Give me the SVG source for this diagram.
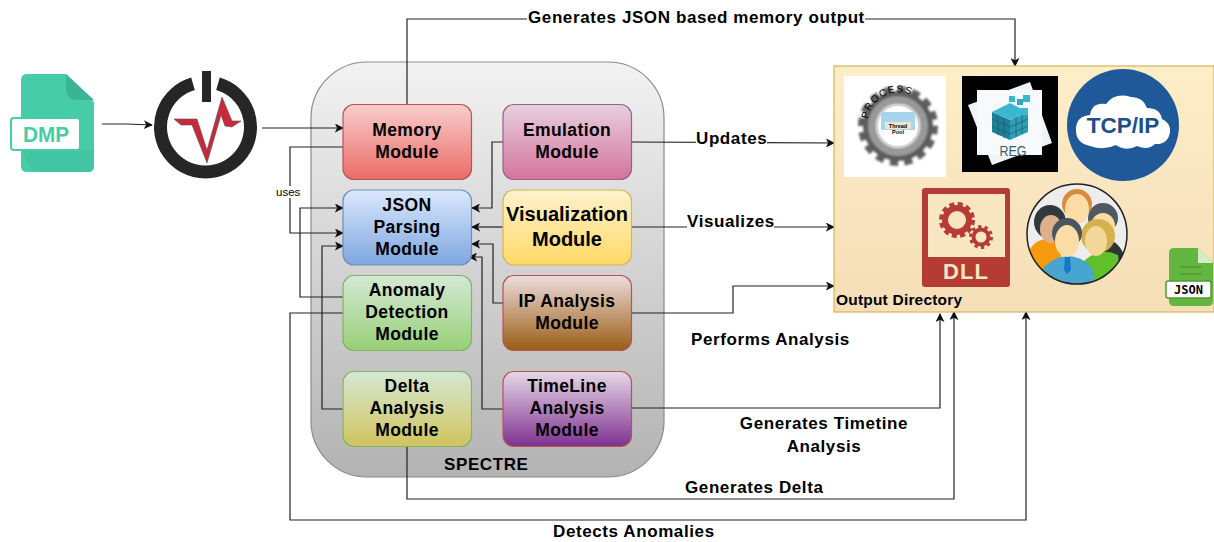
<svg xmlns="http://www.w3.org/2000/svg" width="1214" height="542" viewBox="0 0 1214 542">
<style>
text{font-family:"Liberation Sans",Arial,sans-serif;fill:#000}
.m{font-size:17.5px;font-weight:bold;text-anchor:middle;letter-spacing:.4px}
.l{font-size:17px;font-weight:bold;letter-spacing:.6px}
.b{stroke-width:1.2}
.c{fill:none;stroke:#222;stroke-width:1.2}
.a{marker-end:url(#ah)}
.bg{fill:#fff}
</style>
<defs>
<marker id="ah" viewBox="0 0 10 10" refX="9" refY="5" markerWidth="9" markerHeight="9" markerUnits="userSpaceOnUse" orient="auto"><path d="M0 0L10 5L0 10L2.500 5Z" fill="#111"/></marker>
<linearGradient id="gC" x1="0" y1="0" x2="0" y2="1"><stop offset="0" stop-color="#f2f2f2"/><stop offset="1" stop-color="#b3b3b3"/></linearGradient>
<linearGradient id="gMem" x1="0" y1="0" x2="0" y2="1"><stop offset="0" stop-color="#f8cecc"/><stop offset="1" stop-color="#ea6b66"/></linearGradient>
<linearGradient id="gEmu" x1="0" y1="0" x2="0" y2="1"><stop offset="0" stop-color="#e6d0de"/><stop offset="1" stop-color="#d5739d"/></linearGradient>
<linearGradient id="gJson" x1="0" y1="0" x2="0" y2="1"><stop offset="0" stop-color="#dae8fc"/><stop offset="1" stop-color="#7ea6e0"/></linearGradient>
<linearGradient id="gVis" x1="0" y1="0" x2="0" y2="1"><stop offset="0" stop-color="#fff2cc"/><stop offset="1" stop-color="#ffd966"/></linearGradient>
<linearGradient id="gAno" x1="0" y1="0" x2="0" y2="1"><stop offset="0" stop-color="#d5e8d4"/><stop offset="1" stop-color="#97d077"/></linearGradient>
<linearGradient id="gIp" x1="0" y1="0" x2="0" y2="1"><stop offset="0" stop-color="#eedddd"/><stop offset="1" stop-color="#995c14"/></linearGradient>
<linearGradient id="gDel" x1="0" y1="0" x2="0" y2="1"><stop offset="0" stop-color="#d5e8d4"/><stop offset="1" stop-color="#d0c45c"/></linearGradient>
<linearGradient id="gTim" x1="0" y1="0" x2="0" y2="1"><stop offset="0" stop-color="#e6d8e6"/><stop offset="1" stop-color="#7f3191"/></linearGradient>
<linearGradient id="gOut" x1="0" y1="0" x2="0" y2="1"><stop offset="0" stop-color="#fdeec8"/><stop offset="1" stop-color="#f5deb8"/></linearGradient>
<filter id="soft" x="-10%" y="-10%" width="120%" height="120%"><feGaussianBlur stdDeviation="1.200"/></filter>
</defs>
<rect width="1214" height="542" fill="#fff"/>

<g id="spectre">
<rect x="311" y="62" width="353" height="415" rx="56" fill="url(#gC)" stroke="#8a8a8a" stroke-width="1.2"/>
<text class="l" x="444" y="470">SPECTRE</text>
</g>

<g id="connectors">
<path class="c a" d="M407 104V19H1015V66"/>
<path class="c a" d="M102 124L127 124L152 125"/>
<path class="c a" d="M262 128H343"/>
<path class="c a" d="M343 147H290V233H343"/>
<path class="c a" d="M343 297H300V208H343"/>
<path class="c a" d="M343 409H322V246H343"/>
<path class="c a" d="M343 313H290V520H1026V312"/>
<path class="c a" d="M503 142H492V208H472"/>
<path class="c a" d="M631 142L834 143"/>
<path class="c a" d="M503 227H472"/>
<path class="c a" d="M631 227H834"/>
<path class="c a" d="M503 303H493V244H472"/>
<path class="c a" d="M631 313H733V286H834"/>
<path class="c a" d="M503 409H482V257H469"/>
<path class="c a" d="M631 408H940V314"/>
<path class="c a" d="M407 446V499H954V312"/>
</g>

<g id="edge-labels">
<rect class="bg" x="527" y="10" width="338" height="17"/>
<text class="l" x="528" y="23">Generates JSON based memory output</text>
<rect class="bg" x="696" y="131" width="71" height="17"/>
<text class="l" x="696" y="144">Updates</text>
<rect class="bg" x="687" y="214" width="87" height="17"/>
<text class="l" x="687" y="227">Visualizes</text>
<text class="l" x="691" y="345">Performs Analysis</text>
<text class="l" x="824" y="429" text-anchor="middle">Generates Timetine</text>
<text class="l" x="824" y="452" text-anchor="middle">Analysis</text>
<text class="l" x="685" y="493">Generates Delta</text>
<text class="l" x="553" y="537">Detects Anomalies</text>
<rect class="bg" x="276" y="186" width="26" height="12"/>
<text x="276" y="196" font-size="11.500" fill="#222">uses</text>
</g>

<g id="memory"><rect class="b" x="343" y="104.500" width="128.500" height="75" rx="11" fill="url(#gMem)" stroke="#b85450"/><text class="m" x="407" y="136">Memory</text><text class="m" x="407" y="158">Module</text></g>
<g id="emulation"><rect class="b" x="503" y="104.500" width="128.500" height="75" rx="11" fill="url(#gEmu)" stroke="#996185"/><text class="m" x="567" y="136">Emulation</text><text class="m" x="567" y="158">Module</text></g>
<g id="json"><rect class="b" x="343" y="190" width="128.500" height="75" rx="11" fill="url(#gJson)" stroke="#6c8ebf"/><text class="m" x="407" y="211">JSON</text><text class="m" x="407" y="233">Parsing</text><text class="m" x="407" y="255">Module</text></g>
<g id="visualization"><rect class="b" x="503" y="190" width="128.500" height="75" rx="11" fill="url(#gVis)" stroke="#d6b656"/><text class="m" x="567" y="221" style="font-size:20px;letter-spacing:0">Visualization</text><text class="m" x="567" y="246" style="font-size:20px;letter-spacing:0">Module</text></g>
<g id="anomaly"><rect class="b" x="343" y="275.500" width="128.500" height="75" rx="11" fill="url(#gAno)" stroke="#82b366"/><text class="m" x="407" y="296">Anomaly</text><text class="m" x="407" y="318">Detection</text><text class="m" x="407" y="340">Module</text></g>
<g id="ip"><rect class="b" x="503" y="275.500" width="128.500" height="75" rx="11" fill="url(#gIp)" stroke="#b85450"/><text class="m" x="567" y="307">IP Analysis</text><text class="m" x="567" y="329">Module</text></g>
<g id="delta"><rect class="b" x="343" y="371.500" width="128.500" height="75" rx="11" fill="url(#gDel)" stroke="#82b366"/><text class="m" x="407" y="392">Delta</text><text class="m" x="407" y="414">Analysis</text><text class="m" x="407" y="436">Module</text></g>
<g id="timeline"><rect class="b" x="503" y="371.500" width="128.500" height="75" rx="11" fill="url(#gTim)" stroke="#b85450"/><text class="m" x="567" y="392">TimeLine</text><text class="m" x="567" y="414">Analysis</text><text class="m" x="567" y="436">Module</text></g>

<g id="dmp-file">
<path d="M21 80Q21 74 27 74H66L94 102V166Q94 172 88 172H27Q21 172 21 166Z" fill="#47cca8"/>
<path d="M66 74V88Q66 100 78 100H94Z" fill="#3bb396"/>
<path d="M21 150H94V166Q94 172 88 172H34Z" fill="#3fbf9e" opacity=".6"/>
<rect x="11" y="118" width="69" height="32" rx="3" fill="#fff" stroke="#47cca8" stroke-width="2"/>
<text x="46" y="142" text-anchor="middle" font-size="22" font-weight="bold" textLength="46" lengthAdjust="spacingAndGlyphs" style="fill:#47cca8">DMP</text>
</g>

<g id="power-icon">
<path d="M193 83.800A45 45 0 1 0 218 83.800" fill="none" stroke="#262626" stroke-width="13"/>
<rect x="202" y="71" width="9" height="31" fill="#262626"/>
<path d="M174 119L197 119L207 150L222 97L232 121L241 121L232 127L225 126L221 115L207 163L192 125L181 125Z" fill="#c8283c" stroke="#555" stroke-width=".6"/>
</g>

<g id="output-directory">
<rect x="834" y="66" width="380" height="246" fill="url(#gOut)" stroke="#d6b656" stroke-width="1.2"/>
<text x="836" y="305" font-size="15.500" font-weight="bold" letter-spacing=".2">Output Directory</text>
</g>

<g id="process-icon">
<rect x="844" y="76" width="102" height="101" fill="#fff"/>
<g filter="url(#soft)">
<circle cx="898" cy="126" r="36" fill="none" stroke="#5e5e5e" stroke-width="8" stroke-dasharray="8 6.100"/>
<circle cx="898" cy="126" r="30" fill="none" stroke="#5c5c5c" stroke-width="10"/>
<circle cx="898" cy="126" r="26" fill="none" stroke="#999" stroke-width="8"/>
</g>
<circle cx="898" cy="126" r="21" fill="#fff" stroke="#cfcfcf" stroke-width="2"/>
<rect x="881" y="112" width="34" height="18" fill="#a8d4ee"/>
<rect x="885" y="122" width="26" height="7" fill="#e8e8d0"/>
<text x="898" y="127.500" text-anchor="middle" font-size="5.500" font-weight="bold">Thread</text>
<text x="898" y="133.500" text-anchor="middle" font-size="5.500" font-weight="bold">Pool</text>
<path id="pr" d="M868 119A31 31 0 0 1 929 117" fill="none"/>
<text font-size="10" fill="#111" letter-spacing="1.200"><textPath href="#pr">PROCESS</textPath></text>
</g>

<g id="reg-icon">
<rect x="962" y="76" width="96" height="96" fill="#000"/>
<path d="M968 105L1030 82L1052 143L992 165Z" fill="#eef3f7"/>
<rect x="977" y="90" width="65" height="65" fill="#f7fafc"/>
<path d="M992 112L1010 120V140L992 132Z" fill="#1f7f96"/>
<path d="M1010 120L1028 112V132L1010 140Z" fill="#2e9db5"/>
<path d="M992 112L1010 103L1028 112L1010 120Z" fill="#3bb8d0"/>
<path d="M998 115V135M1004 118V138M1016 117V137M1022 114V134M992 119L1010 127L1028 119M992 126L1010 134L1028 126" fill="none" stroke="#14606f" stroke-width=".7"/>
<rect x="1009" y="96" width="6" height="6" fill="#3bb8d0"/>
<rect x="1017" y="99" width="6" height="6" fill="#2ea7c0"/>
<rect x="1023" y="95" width="7" height="7" fill="#3bb8d0"/>
<rect x="1021" y="108" width="7" height="7" fill="#3bb8d0"/>
<text x="1013" y="156" text-anchor="middle" font-size="14" textLength="27" lengthAdjust="spacingAndGlyphs" style="fill:#3b5a70">REG</text>
</g>

<g id="tcpip-icon">
<circle cx="1123" cy="125" r="56" fill="#20599a"/>
<path d="M1090 146Q1075 143 1076 128Q1077 116 1090 115Q1092 102 1106 104Q1115 92 1131 97Q1143 97 1147 108Q1160 108 1162 119Q1171 123 1170 132Q1168 145 1155 144Q1148 151 1137 146Q1126 152 1116 145Q1104 151 1090 146Z" fill="#fff"/>
<text x="1123" y="133" text-anchor="middle" font-size="22.500" font-weight="bold" style="fill:#1c4f8c">TCP/IP</text>
</g>

<g id="dll-icon">
<path d="M925 188H1007Q1010 188 1010 191V284Q1010 287 1007 287H925Q922 287 922 284V191Q922 188 925 188Z" fill="#b53c34"/>
<rect x="928" y="194" width="77" height="63" fill="#f8e5c2"/>
<circle cx="957" cy="220" r="12" fill="none" stroke="#b53c34" stroke-width="6"/>
<circle cx="957" cy="220" r="16" fill="none" stroke="#b53c34" stroke-width="4" stroke-dasharray="5 3.400"/>
<circle cx="981" cy="237" r="7.500" fill="none" stroke="#b53c34" stroke-width="4"/>
<circle cx="981" cy="237" r="10.500" fill="none" stroke="#b53c34" stroke-width="3" stroke-dasharray="3.300 3.300"/>
<text x="966" y="279" text-anchor="middle" font-size="22" font-weight="bold" letter-spacing="1" style="fill:#f8e5c2">DLL</text>
</g>

<g id="users-icon">
<clipPath id="uc"><circle cx="1077" cy="234" r="50"/></clipPath>
<circle cx="1077" cy="234" r="50" fill="#ededed"/>
<g clip-path="url(#uc)">
<path d="M1100 240Q1128 235 1130 290H1095Z" fill="#2e3338"/>
<ellipse cx="1103" cy="218" rx="15" ry="15" fill="#505a64"/>
<ellipse cx="1103" cy="226" rx="12" ry="13" fill="#fbdca4"/>
<path d="M1027 255Q1035 235 1056 240L1072 290H1027Z" fill="#f59a0c"/>
<ellipse cx="1050" cy="222" rx="16" ry="17" fill="#33383d"/>
<ellipse cx="1051" cy="229" rx="11" ry="14" fill="#dcb08c"/>
<circle cx="1077" cy="204" r="15" fill="#d98a3c"/>
<ellipse cx="1077" cy="209" rx="12" ry="15" fill="#fbdca4"/>
<path d="M1080 265Q1098 245 1118 255L1122 290H1080Z" fill="#5fc02a"/>
<circle cx="1098" cy="236" r="17" fill="#d6b24e"/>
<ellipse cx="1096" cy="241" rx="11" ry="15" fill="#f3d89a"/>
<path d="M1040 272Q1050 258 1066 256Q1085 256 1094 272V290H1040Z" fill="#47a5cf"/>
<circle cx="1067" cy="233" r="15" fill="#4a5560"/>
<ellipse cx="1067" cy="241" rx="12" ry="16" fill="#fbdca4"/>
<path d="M1065 257H1070L1071 270L1067 274L1064 270Z" fill="#1578c8"/>
</g>
<circle cx="1077" cy="234" r="50" fill="none" stroke="#222" stroke-width="1.500"/>
</g>

<g id="json-icon">
<path d="M1169 253Q1169 248 1174 248H1198L1213 263V301Q1213 306 1208 306H1174Q1169 306 1169 301Z" fill="#62b63f"/>
<path d="M1198 248L1213 263H1198Z" fill="#d4edc4"/>
<rect x="1166" y="281" width="45" height="17" rx="2" fill="#fff" stroke="#4f9a32" stroke-width="1.500"/>
<text x="1188.500" y="294" text-anchor="middle" font-size="12" font-weight="bold" style="font-family:'DejaVu Sans Mono','Liberation Mono',monospace">JSON</text>
<path d="M1180 267H1202M1180 274H1202" stroke="#4f9a32" stroke-width="1.500"/>
</g>
</svg>
